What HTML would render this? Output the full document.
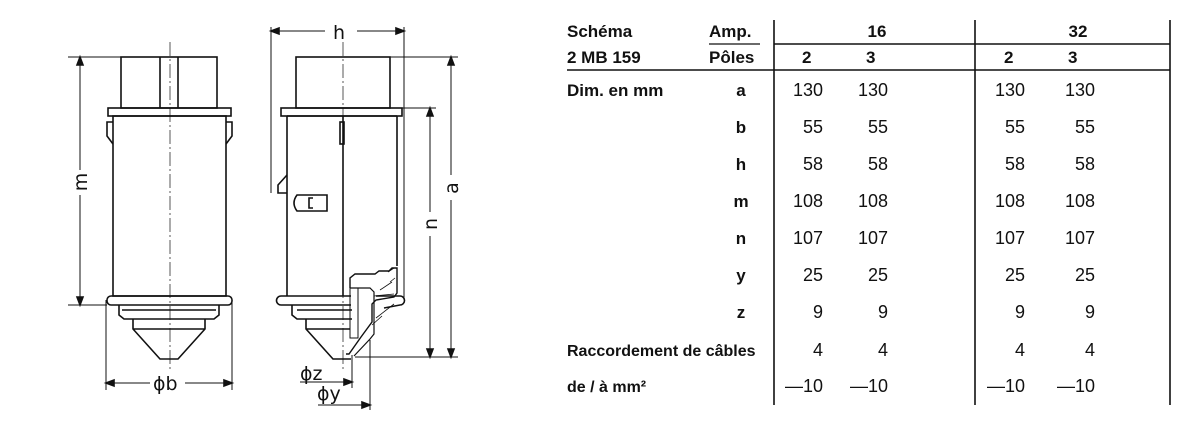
<!DOCTYPE html><html><head><style>body{margin:0;background:#fff;width:1200px;height:427px;overflow:hidden;font-family:"DejaVu Sans","Liberation Sans",sans-serif;}svg{position:absolute;left:0;top:0}</style></head><body>
<svg width="1200" height="427" viewBox="0 0 1200 427" fill="none" stroke="#111" stroke-width="1.6">
<rect x="121" y="57" width="96" height="51"/><line x1="160" y1="57" x2="160" y2="108"/><line x1="178" y1="57" x2="178" y2="108"/>
<rect x="108" y="108" width="123" height="8"/>
<rect x="113" y="116" width="113" height="180"/>
<path d="M113 122 h-6 v14 l6 8 M226 122 h6 v14 l-6 8"/>
<rect x="107" y="296" width="125" height="9" rx="4"/>
<path d="M119 305 v10 l5 4 h90 l5 -4 v-10 M122 310 h94"/>
<path d="M133 319 v10 l27 30 h18 l27 -30 v-10 M133 329 h72"/>
<line x1="170" y1="42" x2="170" y2="372" stroke-width="0.7" stroke-dasharray="14 3 2 3"/>
<line x1="80" y1="57" x2="80" y2="170" stroke-width="1"/><line x1="80" y1="195" x2="80" y2="305" stroke-width="1"/><path d="M80 57 l-3 8 h6z M80 305 l-3 -8 h6z" fill="#111"/>
<line x1="68" y1="57" x2="121" y2="57" stroke-width="1"/><line x1="68" y1="305" x2="107" y2="305" stroke-width="1"/>
<line x1="106" y1="300" x2="106" y2="390" stroke-width="1"/><line x1="232" y1="300" x2="232" y2="390" stroke-width="1"/>
<line x1="106" y1="383" x2="150" y2="383" stroke-width="1"/><line x1="185" y1="383" x2="232" y2="383" stroke-width="1"/>
<path d="M106 383 l8 -3 v6z M232 383 l-8 -3 v6z" fill="#111"/>
<rect x="296" y="57" width="94" height="51"/>
<rect x="281" y="108" width="121" height="8"/>
<path d="M287 116 v180 M397 116 v150 M287 116 h110"/>
<line x1="343" y1="116" x2="343" y2="296"/>
<rect x="340" y="122" width="4" height="22"/>
<path d="M287 175 l-9 10 v8 h9"/>
<path d="M297 195 h30 v16 h-30 q-6 -8 0 -16z M313 198 h-4 v10 h4"/>
<path d="M281 296 h70 M281 296 a4.5 4.5 0 0 0 0 9 h70"/>
<path d="M376 296 h24 a4.5 4.5 0 0 1 0 9 l-16 3"/>
<path d="M292 305 v10 l5 4 h55 M297 310 h55"/>
<path d="M306 319 v10 l27 30 h18 M306 329 h44"/>
<path d="M350 288 v-10 l5 -4 h20 l4 -3 h10 l3 -3 h5 v25 l-3 4 -18 3 -4 4 v18 l-11 15 -12 17 h-3" stroke-width="1.4"/>
<path d="M350 288 h20 l4 4 v42 l-4 5 -16 17" stroke-width="1.2"/>
<path d="M350 288 v50 h8 v-50" stroke-width="1"/>
<path d="M374 296 l20 -2 M380 290 l12 -8 M376 318 l18 -14 M372 325 l10 -9 M388 272 l6 -4 M390 282 l5 -4" stroke-width="0.8"/>
<line x1="343" y1="42" x2="343" y2="372" stroke-width="0.7" stroke-dasharray="14 3 2 3"/>
<line x1="271" y1="27" x2="271" y2="193" stroke-width="1"/><line x1="404" y1="27" x2="404" y2="300" stroke-width="1"/>
<line x1="271" y1="31" x2="325" y2="31" stroke-width="1"/><line x1="357" y1="31" x2="404" y2="31" stroke-width="1"/>
<path d="M271 31 l8 -3 v6z M404 31 l-8 -3 v6z" fill="#111"/>
<line x1="390" y1="57" x2="458" y2="57" stroke-width="1"/><line x1="402" y1="108" x2="436" y2="108" stroke-width="1"/>
<line x1="355" y1="357" x2="458" y2="357" stroke-width="1"/>
<line x1="451" y1="57" x2="451" y2="175" stroke-width="1"/><line x1="451" y1="200" x2="451" y2="357" stroke-width="1"/><path d="M451 57 l-3 8 h6z M451 357 l-3 -8 h6z" fill="#111"/>
<line x1="430" y1="108" x2="430" y2="212" stroke-width="1"/><line x1="430" y1="236" x2="430" y2="357" stroke-width="1"/><path d="M430 108 l-3 8 h6z M430 357 l-3 -8 h6z" fill="#111"/>
<line x1="352" y1="355" x2="352" y2="388" stroke-width="1"/><line x1="370" y1="340" x2="370" y2="410" stroke-width="1"/>
<line x1="300" y1="382" x2="352" y2="382" stroke-width="1"/><path d="M352 382 l-8 -3 v6z" fill="#111"/>
<line x1="318" y1="405" x2="370" y2="405" stroke-width="1"/><path d="M370 405 l-8 -3 v6z" fill="#111"/>
<g fill="#111" stroke="none" font-family="DejaVu Sans,sans-serif" font-size="19">
<text x="153" y="390">ϕb</text><text x="333" y="39">h</text>
<text x="300" y="380">ϕz</text><text x="317" y="400">ϕy</text>
<text transform="translate(87 182) rotate(-90)" text-anchor="middle">m</text>
<text transform="translate(458 188) rotate(-90)" text-anchor="middle">a</text>
<text transform="translate(437 224) rotate(-90)" text-anchor="middle">n</text>
</g>
<g stroke-width="1.6"><line x1="774" y1="20" x2="774" y2="405"/><line x1="975" y1="20" x2="975" y2="405"/><line x1="1170" y1="20" x2="1170" y2="405"/>
<line x1="774" y1="44" x2="1170" y2="44"/><line x1="567" y1="70" x2="1170" y2="70"/>
<line x1="709" y1="44" x2="760" y2="44" stroke-width="1.2"/></g>
<g fill="#111" stroke="none" font-family="Liberation Sans,sans-serif" font-size="17">
<g font-weight="bold"><text x="567" y="37">Schéma</text><text x="709" y="37">Amp.</text><text x="567" y="63">2 MB 159</text><text x="709" y="63">Pôles</text>
<text x="877" y="37" text-anchor="middle">16</text><text x="1078" y="37" text-anchor="middle">32</text>
<text x="802" y="63">2</text><text x="866" y="63">3</text><text x="1004" y="63">2</text><text x="1068" y="63">3</text>
<text x="567" y="96">Dim. en mm</text>
<text x="741" y="96" text-anchor="middle">a</text><text x="741" y="133" text-anchor="middle">b</text><text x="741" y="170" text-anchor="middle">h</text><text x="741" y="207" text-anchor="middle">m</text><text x="741" y="244" text-anchor="middle">n</text><text x="741" y="281" text-anchor="middle">y</text><text x="741" y="318" text-anchor="middle">z</text>
<text x="567" y="356" font-size="16">Raccordement de câbles</text><text x="567" y="392" font-size="16">de / à mm²</text></g>
<g text-anchor="end" font-size="18">
<text x="823" y="96">130</text><text x="888" y="96">130</text><text x="1025" y="96">130</text><text x="1095" y="96">130</text>
<text x="823" y="133">55</text><text x="888" y="133">55</text><text x="1025" y="133">55</text><text x="1095" y="133">55</text>
<text x="823" y="170">58</text><text x="888" y="170">58</text><text x="1025" y="170">58</text><text x="1095" y="170">58</text>
<text x="823" y="207">108</text><text x="888" y="207">108</text><text x="1025" y="207">108</text><text x="1095" y="207">108</text>
<text x="823" y="244">107</text><text x="888" y="244">107</text><text x="1025" y="244">107</text><text x="1095" y="244">107</text>
<text x="823" y="281">25</text><text x="888" y="281">25</text><text x="1025" y="281">25</text><text x="1095" y="281">25</text>
<text x="823" y="318">9</text><text x="888" y="318">9</text><text x="1025" y="318">9</text><text x="1095" y="318">9</text>
<text x="823" y="356">4</text><text x="888" y="356">4</text><text x="1025" y="356">4</text><text x="1095" y="356">4</text>
<text x="823" y="392">—10</text><text x="888" y="392">—10</text><text x="1025" y="392">—10</text><text x="1095" y="392">—10</text>
</g></g>
</svg></body></html>
